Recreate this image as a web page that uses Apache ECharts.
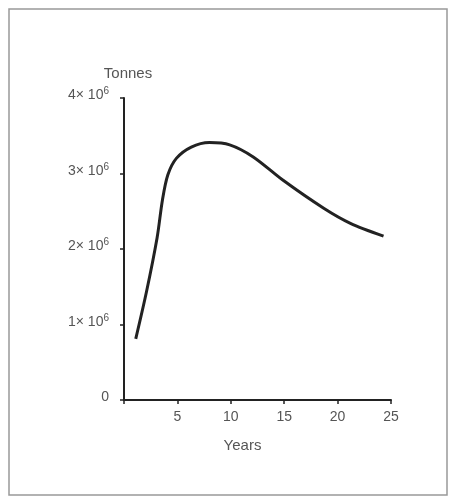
<!DOCTYPE html>
<html>
<head>
    <meta charset="utf-8">
    <title>Tonnes over years</title>
    <style>
        html, body { margin: 0; padding: 0; background: #fff; }
        #chart { width: 452px; height: 498px; }
    </style>
</head>
<body>
<div id="chart"></div>
<script src="https://cdn.jsdelivr.net/npm/echarts@6/dist/echarts.min.js"></script>
<script>
    // curve (years, tonnes)
    var years = [1.1, 2.1, 3.1, 3.6, 4.1, 4.9, 6.3, 8.0, 9.9, 12.1, 14.9, 18.7, 21.2, 24.3];
    var tonnes = [0.81e6, 1.43e6, 2.15e6, 2.65e6, 2.98e6, 3.2e6, 3.35e6, 3.41e6, 3.38e6, 3.22e6, 2.91e6, 2.54e6, 2.34e6, 2.17e6];
    var yTickLabels = ['0', '1', '2', '3', '4']; // multiples of 10^6
    var xTicks = [5, 10, 15, 20, 25];

    var pts = [];
    for (var i = 0; i < years.length; i++) {
        pts.push([years[i], tonnes[i]]);
    }

    var font = 'Liberation Sans';
    var ink = '#222';
    var txt = '#555';
    var myChart = echarts.init(document.getElementById('chart'));
    var option = {
        backgroundColor: '#fff',
        animation: false,
        grid: { left: 124, right: 61, top: 98, bottom: 98 },
        graphic: [{
            type: 'rect',
            shape: { x: 9, y: 9, width: 438, height: 486 },
            style: { fill: 'none', stroke: '#999', lineWidth: 1.5 }
        }],
        xAxis: {
            type: 'value',
            min: 0, max: 25, interval: 5,
            name: 'Years',
            nameLocation: 'middle',
            nameGap: 38,
            nameTextStyle: { fontFamily: font, fontSize: 15, color: txt, padding: [0, 30, 0, 0] },
            axisLine: { lineStyle: { color: ink, width: 2 } },
            axisTick: { length: 4, lineStyle: { color: ink, width: 1.5 } },
            axisLabel: {
                margin: 10, fontFamily: font, fontSize: 14, color: txt,
                formatter: function (v) { return xTicks.indexOf(v) >= 0 ? String(v) : ''; }
            },
            splitLine: { show: false }
        },
        yAxis: {
            type: 'value',
            min: 0, max: 4e6, interval: 1e6,
            name: 'Tonnes',
            nameLocation: 'end',
            nameGap: 17,
            nameTextStyle: { fontFamily: font, fontSize: 15, color: txt, align: 'center', padding: [0, 0, 0, 8] },
            axisLine: { show: true, lineStyle: { color: ink, width: 2 } },
            axisTick: { show: true, length: 4, lineStyle: { color: ink, width: 1.5 } },
            axisLabel: {
                margin: 15, fontFamily: font, fontSize: 14, color: txt,
                padding: [0, 0, 5, 0],
                formatter: function (v) {
                    var k = Math.round(v / 1e6);
                    if (k === 0) return '{a|' + yTickLabels[0] + '}';
                    return '{a|' + yTickLabels[k] + '× 10}{s|6}';
                },
                rich: {
                    a: { fontFamily: font, fontSize: 14, color: txt },
                    s: { fontFamily: font, fontSize: 10, color: txt, padding: [0, 0, 8, 0] }
                }
            },
            splitLine: { show: false }
        },
        series: [{
            type: 'line',
            data: pts,
            smooth: 0.3,
            showSymbol: false,
            lineStyle: { color: ink, width: 3 }
        }]
    };
    myChart.setOption(option);
</script>
</body>
</html>
